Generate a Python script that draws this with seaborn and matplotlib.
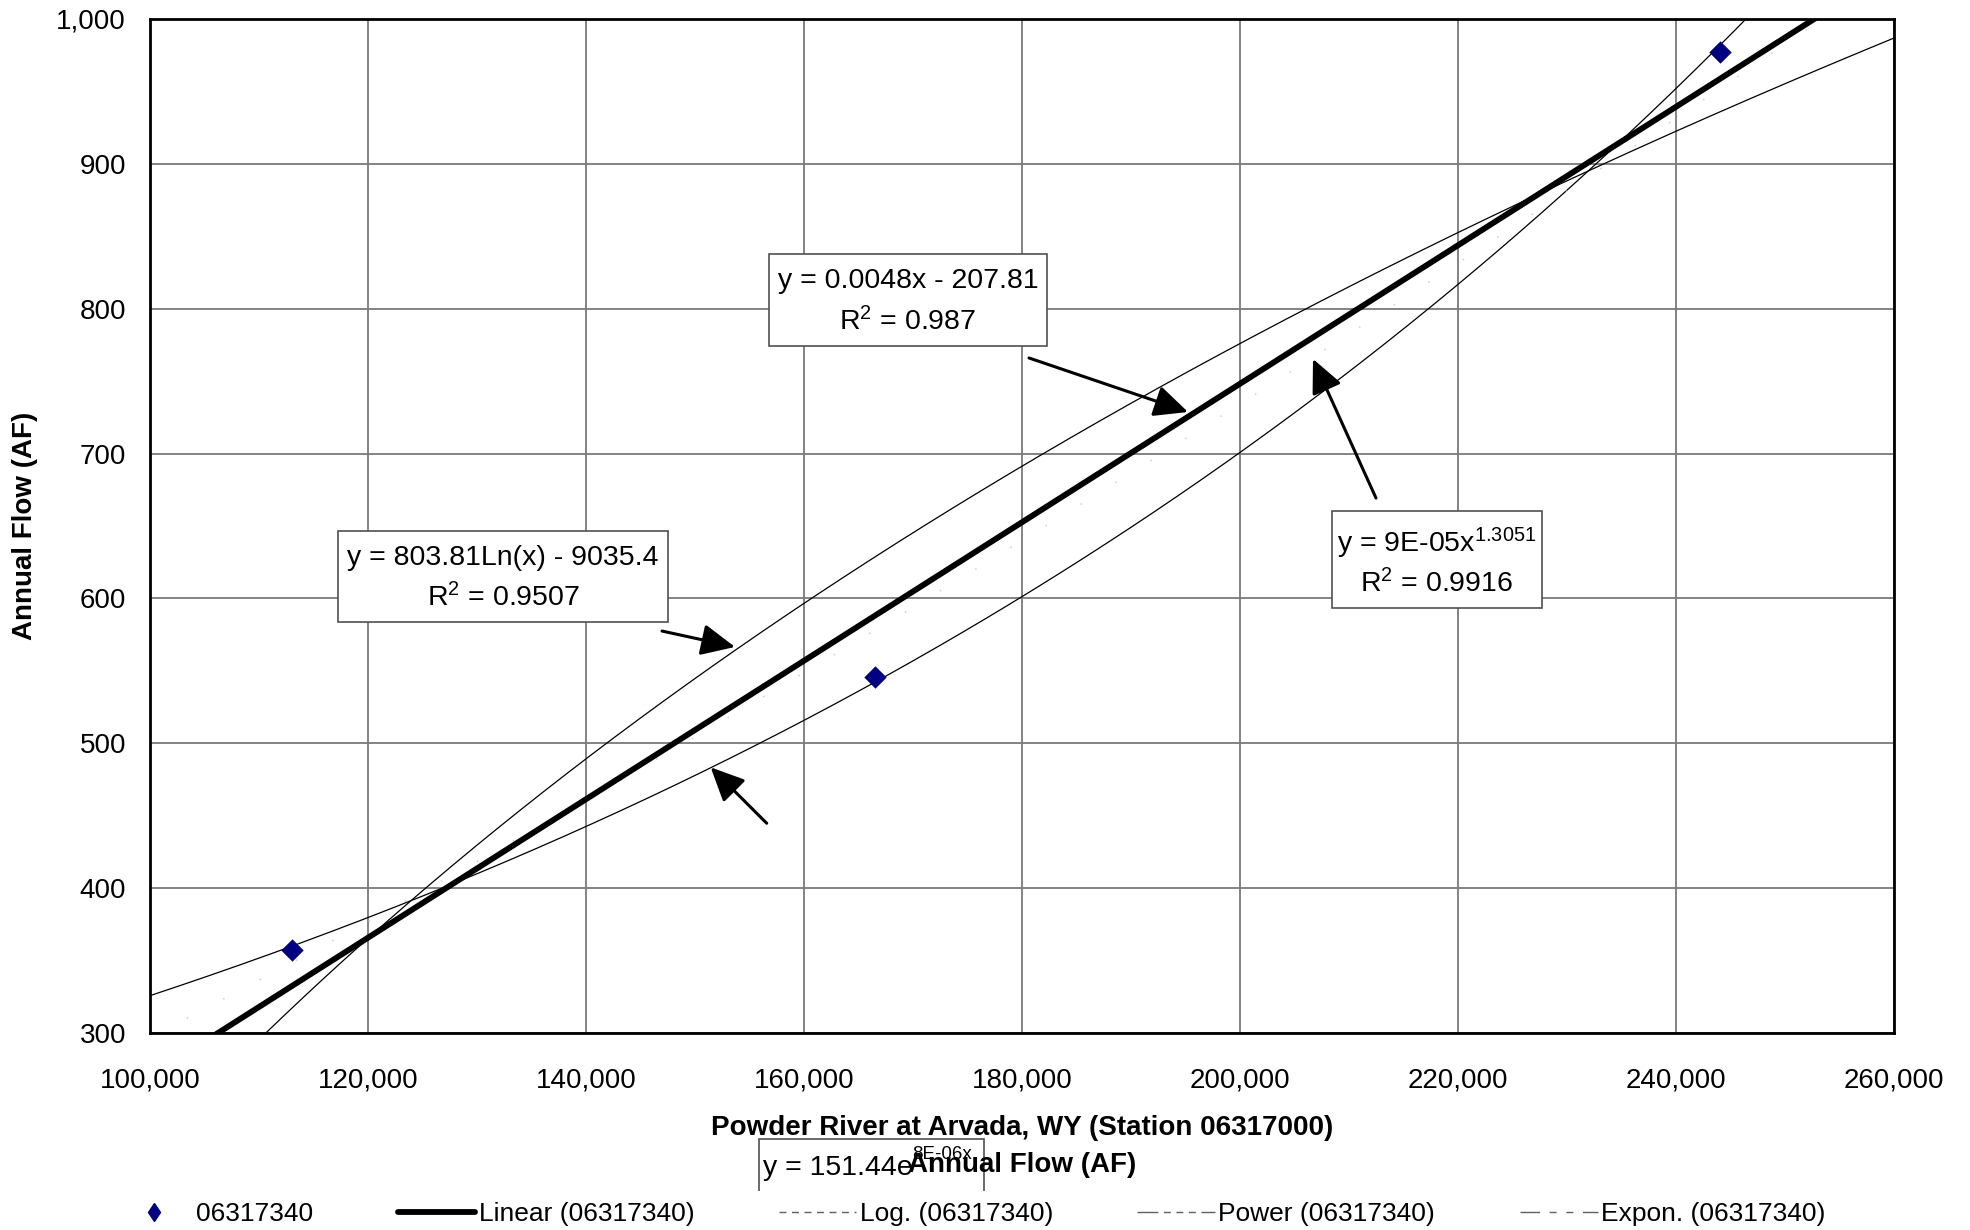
import numpy as np
import pandas as pd
import matplotlib
matplotlib.use("Agg")
import matplotlib.pyplot as plt
from matplotlib.lines import Line2D
from matplotlib.patches import Rectangle
from matplotlib.ticker import FuncFormatter, FixedLocator
import seaborn as sns

# Annual flows (acre-feet): Powder River at Arvada (x) vs station 06317340 (y)
arvada_flow = [113000, 166500, 244000]
station_flow = [357, 546, 977]
series_name = "06317340"

# Trendline coefficients
linear_slope, linear_intercept, linear_r2 = 0.00478, -207.81, 0.987
log_coef, log_const, log_r2 = 803.81, -9035.4, 0.9507
power_coef, power_exp, power_r2 = 8.86e-05, 1.3051, 0.9916
expon_coef, expon_rate = 151.44, 7.66e-06

x_ticks = list(range(100000, 260001, 20000))
y_ticks = list(range(300, 1001, 100))

sns.set_style("white")
plt.rcParams["font.family"] = ["Liberation Sans", "DejaVu Sans"]
plt.rcParams["mathtext.fontset"] = "custom"
plt.rcParams["mathtext.rm"] = "Liberation Sans"
plt.rcParams["mathtext.default"] = "regular"
plt.rcParams["text.color"] = "black"
plt.rcParams["axes.labelcolor"] = "black"

W, H = 1970, 1230
fig = plt.figure(figsize=(W / 100, H / 100), dpi=100)


def fx(px):
    return px / W


def fy(py):
    return 1 - py / H


ax = fig.add_axes([fx(150), fy(1033), fx(1894) - fx(150), fy(19) - fy(1033)])
ax.set_axisbelow(True)

# fitted trendlines
xs = np.linspace(100000, 260000, 800)
curves = pd.DataFrame({
    "x": xs,
    "linear": linear_slope * xs + linear_intercept,
    "log": log_coef * np.log(xs) + log_const,
    "power": power_coef * xs ** power_exp,
    "expon": expon_coef * np.exp(expon_rate * xs),
})

sns.lineplot(data=curves, x="x", y="log", ax=ax, color="black", lw=0.9,
             estimator=None, sort=False)
sns.lineplot(data=curves, x="x", y="expon", ax=ax, color="black", lw=0.9,
             estimator=None, sort=False)
sns.lineplot(data=curves, x="x", y="power", ax=ax, color="#cfcfcf", lw=1.1,
             estimator=None, sort=False)
ax.get_lines()[-1].set_linestyle((0, (1.0, 26)))
sns.lineplot(data=curves, x="x", y="linear", ax=ax, color="black", lw=4.2,
             estimator=None, sort=False)

pts = pd.DataFrame({"x": arvada_flow, "y": station_flow})
sns.scatterplot(data=pts, x="x", y="y", ax=ax, marker="D", s=130,
                color="#000080", edgecolor="#000080", linewidth=0, zorder=6)

ax.set_xlim(100000, 260000)
ax.set_ylim(300, 1000)
ax.xaxis.set_major_locator(FixedLocator(x_ticks))
ax.yaxis.set_major_locator(FixedLocator(y_ticks))
fmt = FuncFormatter(lambda v, _: f"{v:,.0f}")
ax.xaxis.set_major_formatter(fmt)
ax.yaxis.set_major_formatter(fmt)
ax.grid(True, color="#7a7a7a", lw=1.3)
for sp in ax.spines.values():
    sp.set_visible(True)
    sp.set_color("black")
    sp.set_linewidth(2.0)
ax.tick_params(axis="both", direction="out", length=5.8, width=1.0,
               color="#7a7a7a", labelsize=20, labelcolor="black")
ax.tick_params(axis="x", pad=19)
ax.tick_params(axis="y", pad=11.5)

ax.set_xlabel("Powder River at Arvada, WY (Station 06317000)\nAnnual Flow (AF)",
              fontsize=20, fontweight="bold", linespacing=1.58, color="black")
ax.xaxis.set_label_coords(0.5, -0.0805)
ax.set_ylabel("Annual Flow (AF)", fontsize=20, fontweight="bold", va="center",
              color="black")
ax.yaxis.set_label_coords(-0.0717, 0.5)


# equation boxes
def eq_box(x0, y0, x1, y1, lines):
    fig.add_artist(Rectangle((fx(x0), fy(y1)), fx(x1) - fx(x0), fy(y0) - fy(y1),
                             transform=fig.transFigure, facecolor="white",
                             edgecolor="#505050", lw=1.2, zorder=4))
    for (cx, base, txt) in lines:
        fig.text(fx(cx), fy(base), txt, ha="center", va="baseline",
                 fontsize=20.5, color="black", zorder=4.5)


linear_label = f"y = {linear_slope:.4f}x - {abs(linear_intercept):.2f}"
log_label = f"y = {log_coef:.2f}Ln(x) - {abs(log_const):.1f}"
power_label = f"y = {power_coef:.0E}x$^{{{power_exp}}}$"

eq_box(769, 254, 1047, 346, [(908, 288, linear_label),
                             (908, 330, f"R$^2$ = {linear_r2}")])
eq_box(338, 531, 668, 622, [(503, 565, log_label),
                            (503, 606, f"R$^2$ = {log_r2}")])
eq_box(1332, 511, 1542, 608, [(1437, 552, power_label),
                              (1437, 592, f"R$^2$ = {power_r2}")])

# exponential label sits below the axis title, partly hidden
exp_box = Rectangle((fx(759), fy(1245)), fx(984) - fx(759), fy(1139) - fy(1245),
                    transform=fig.transFigure, facecolor="white",
                    edgecolor="#505050", lw=1.2, zorder=0.2)
ax.add_patch(exp_box)
exp_box.set_clip_path(None)
exp_box.set_clip_on(False)
ax.text(fx(763), fy(1175), f"y = {expon_coef:.2f}e", transform=fig.transFigure,
        ha="left", va="baseline", fontsize=20.5, zorder=0.3, clip_on=False)
ax.text(fx(912), fy(1159), f"{expon_rate:.0E}x", transform=fig.transFigure,
        ha="left", va="baseline", fontsize=13.5, zorder=0.3, clip_on=False)

# arrows from labels to their curves
arrow_kw = dict(arrowstyle="-|>,head_length=0.9,head_width=0.42", color="black",
                lw=2.2, shrinkA=0, shrinkB=0, mutation_scale=23)
arrows = [((195229, 728.7), (180642, 766.0)),
          ((206697, 765.3), (212477, 669.3)),
          ((153670, 566.5), (146972, 577.5)),
          ((151440, 483.4), (156578, 444.8))]
for head, tail in arrows:
    ax.annotate("", xy=head, xytext=tail, arrowprops=arrow_kw, zorder=5)

handles = [
    Line2D([], [], marker="d", color="#000080", linestyle="none", markersize=9.5),
    Line2D([], [], color="black", lw=4.2),
    Line2D([], [], color="#606060", lw=1.0, dashes=(5, 4)),
    Line2D([], [], color="#606060", lw=1.0, dashes=(15, 4, 5, 4, 5, 4, 5, 4)),
    Line2D([], [], color="#606060", lw=1.0, dashes=(14, 7, 5, 7, 5, 7)),
]
labels = [series_name, f"Linear ({series_name})", f"Log. ({series_name})",
          f"Power ({series_name})", f"Expon. ({series_name})"]
fig.legend(handles, labels, loc="center", bbox_to_anchor=(0.4924, 0.0130),
           ncol=5, fontsize=19, frameon=True, fancybox=False, facecolor="white",
           edgecolor="none", framealpha=1, handlelength=2.95, handletextpad=0.12,
           columnspacing=3.2, borderpad=0.4, borderaxespad=0)

fig.savefig("out.png", dpi=100)
